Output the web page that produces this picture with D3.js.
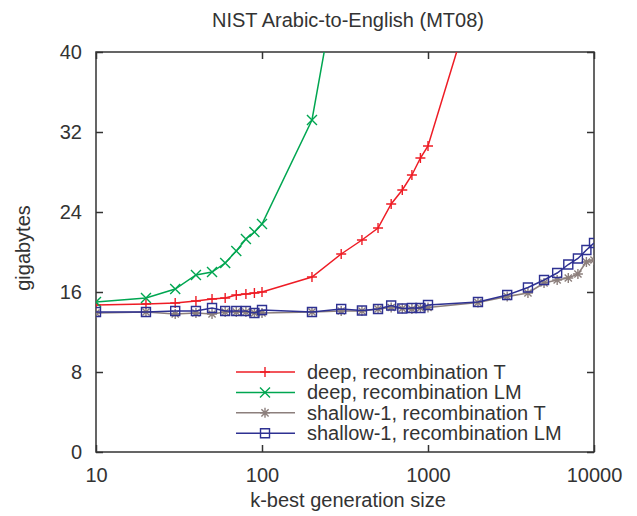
<!DOCTYPE html>
<html>
<head>
<meta charset="utf-8">
<script src="https://cdn.jsdelivr.net/npm/d3@7"></script>
<style>
  body { margin: 0; background: #fff; }
  text { font-family: "Liberation Sans", Arial, sans-serif; fill: #333; }
</style>
</head>
<body>
<div id="chart"></div>
<script>
// Data
const kDeepLM = [10, 20, 30, 40, 50, 60, 70, 80, 90, 100, 200, 300];
const deepLM = [15.0, 15.4, 16.3, 17.7, 18.0, 18.9, 20.1, 21.3, 22.0, 22.8, 33.2, 49.5];

const kDeepT = [10, 20, 30, 40, 50, 60, 70, 80, 90, 100, 200, 300, 400, 500, 600, 700, 800, 900, 1000, 2000];
const deepT = [14.7, 14.8, 14.9, 15.1, 15.3, 15.4, 15.7, 15.8, 15.9, 16.0, 17.5, 19.8, 21.2, 22.4, 24.8, 26.2, 27.7, 29.4, 30.6, 47];

const kShallow = [10, 20, 30, 40, 50, 60, 70, 80, 90, 100, 200, 300, 400, 500, 600, 700, 800, 900, 1000,
                  2000, 3000, 4000, 5000, 6000, 7000, 8000, 9000, 10000];
const shallowT = [13.9, 14.0, 13.8, 13.9, 13.8, 14.0, 14.0, 14.0, 13.9, 13.9, 14.0, 14.1, 14.1, 14.3, 14.45, 14.35, 14.3, 14.4, 14.45,
                  14.95, 15.55, 15.9, 16.9, 17.2, 17.4, 17.8, 19.0, 19.2];
const shallowLM = [14.0, 14.0, 14.1, 14.1, 14.4, 14.1, 14.1, 14.1, 13.9, 14.2, 14.0, 14.3, 14.15, 14.3, 14.65, 14.35, 14.4, 14.4, 14.7,
                   15.0, 15.7, 16.45, 17.2, 17.9, 18.75, 19.35, 20.2, 20.9];

const xTicks = [10, 100, 1000, 10000];
const yTicks = [0, 8, 16, 24, 32, 40];

const series = [
  { name: "deep, recombination T", k: kDeepT, v: deepT, color: "#ee1c25", marker: "plus" },
  { name: "deep, recombination LM", k: kDeepLM, v: deepLM, color: "#00a651", marker: "cross" },
  { name: "shallow-1, recombination T", k: kShallow, v: shallowT, color: "#8c7f7c", marker: "star" },
  { name: "shallow-1, recombination LM", k: kShallow, v: shallowLM, color: "#2e3192", marker: "square" }
];

// Setup
const W = 637, H = 516;
const pLeft = 96, pRight = 594, pTop = 52, pBottom = 452;
const fontSize = "20px";

const svg = d3.select("#chart").append("svg").attr("width", W).attr("height", H);

const x = d3.scaleLog().domain([10, 10000]).range([pLeft, pRight]);
const y = d3.scaleLinear().domain([0, 40]).range([pBottom, pTop]);

const markers = {
  plus: "M-5,0H5M0,-5V5",
  cross: "M-5,-5L5,5M-5,5L5,-5",
  star: "M-5,0H5M0,-5V5M-3.6,-3.6L3.6,3.6M-3.6,3.6L3.6,-3.6",
  square: "M-4.5,-4.5H4.5V4.5H-4.5Z"
};

svg.append("clipPath").attr("id", "clip")
  .append("rect").attr("x", pLeft).attr("y", pTop).attr("width", pRight - pLeft).attr("height", pBottom - pTop);

// Axes with inward ticks on all four sides
const fmt = d3.format("d");
svg.append("g").attr("transform", `translate(0,${pBottom})`)
  .call(d3.axisBottom(x).tickValues(xTicks).tickFormat(fmt).tickSizeInner(-7).tickSizeOuter(0).tickPadding(16));
svg.append("g").attr("transform", `translate(0,${pTop})`)
  .call(d3.axisTop(x).tickValues(xTicks).tickFormat("").tickSizeInner(-7).tickSizeOuter(0));
svg.append("g").attr("transform", `translate(${pLeft},0)`)
  .call(d3.axisLeft(y).tickValues(yTicks).tickSizeInner(-7).tickSizeOuter(0).tickPadding(14));
svg.append("g").attr("transform", `translate(${pRight},0)`)
  .call(d3.axisRight(y).tickValues(yTicks).tickFormat("").tickSizeInner(-7).tickSizeOuter(0));

svg.selectAll(".domain").remove();
svg.selectAll(".tick line").attr("stroke", "#333").attr("stroke-width", 1.5);
svg.selectAll(".tick text").style("font-size", fontSize).style("font-family", "Liberation Sans, Arial, sans-serif").attr("fill", "#333");

svg.append("rect").attr("x", pLeft).attr("y", pTop).attr("width", pRight - pLeft).attr("height", pBottom - pTop)
  .attr("fill", "none").attr("stroke", "#333").attr("stroke-width", 1.5);

// Titles
svg.append("text").attr("x", 348).attr("y", 27).attr("text-anchor", "middle")
  .style("font-size", fontSize).text("NIST Arabic-to-English (MT08)");
svg.append("text").attr("x", 348).attr("y", 507).attr("text-anchor", "middle")
  .style("font-size", fontSize).text("k-best generation size");
svg.append("text").attr("transform", "rotate(-90)").attr("x", -248).attr("y", 30).attr("text-anchor", "middle")
  .style("font-size", fontSize).text("gigabytes");

// Lines and markers
const line = d3.line().x(d => x(d[0])).y(d => y(d[1]));
const plot = svg.append("g").attr("clip-path", "url(#clip)");

series.forEach(s => {
  const pts = s.k.map((k, i) => [k, s.v[i]]);
  plot.append("path").datum(pts).attr("d", line)
    .attr("fill", "none").attr("stroke", s.color).attr("stroke-width", 1.5);
  plot.selectAll(null).data(pts).enter().append("path")
    .attr("transform", d => `translate(${x(d[0])},${y(d[1])})`)
    .attr("d", markers[s.marker])
    .attr("fill", "none").attr("stroke", s.color).attr("stroke-width", 1.4);
});

// Legend
const legend = svg.append("g");
series.forEach((s, i) => {
  const ly = 372 + i * 20.4;
  legend.append("line").attr("x1", 236).attr("x2", 295).attr("y1", ly).attr("y2", ly)
    .attr("stroke", s.color).attr("stroke-width", 1.5);
  legend.append("path").attr("transform", `translate(265,${ly})`).attr("d", markers[s.marker])
    .attr("fill", "none").attr("stroke", s.color).attr("stroke-width", 1.4);
  legend.append("text").attr("x", 307).attr("y", ly + 7).style("font-size", fontSize).text(s.name);
});
</script>
</body>
</html>
